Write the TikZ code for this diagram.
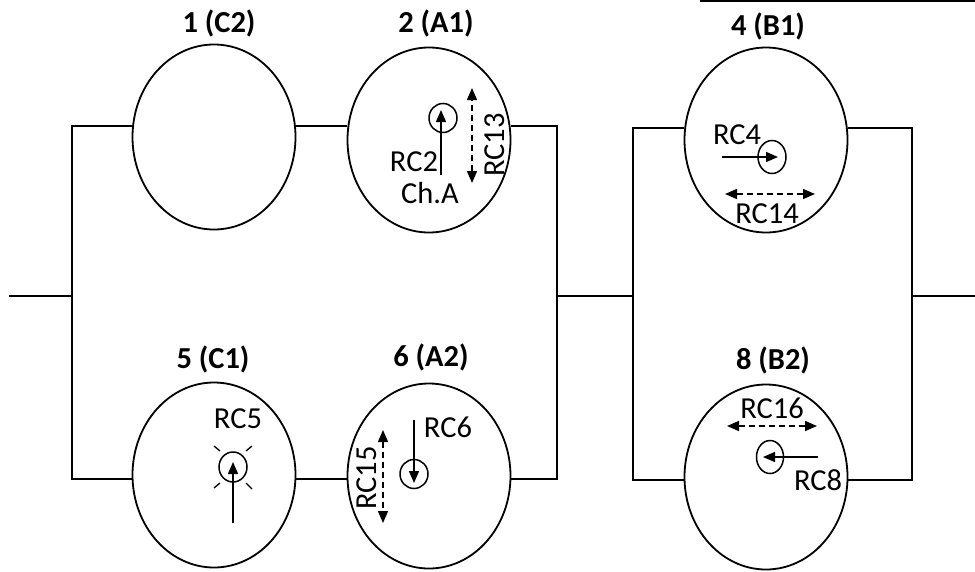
\documentclass[tikz,border=0pt]{standalone}
\usepackage{fontspec}
\setmainfont{Carlito}
\usetikzlibrary{shapes.geometric,arrows.meta}
\begin{document}
\begin{tikzpicture}[x=1pt,y=-1pt,
 wire/.style={line width=1.8pt},
 big/.style={ellipse,draw,line width=1.8pt,inner sep=0pt,minimum width=163pt,minimum height=185pt},
 small/.style={ellipse,draw,line width=1.5pt,inner sep=0pt,minimum width=28pt,minimum height=29pt},
 lab/.style={font=\fontsize{30.5}{34}\selectfont\bfseries,inner sep=0pt},
 txt/.style={font=\fontsize{30.5}{34}\selectfont,inner sep=0pt},
 arr/.style={line width=1.5pt,-{Triangle[length=12pt,width=10pt]}},
 darr/.style={line width=1.5pt,dash pattern=on 6pt off 4pt,{Triangle[length=12pt,width=10pt]}-{Triangle[length=12pt,width=10pt]}},
 ray/.style={line width=1.3pt},
]
\useasboundingbox (0,0) rectangle (975,571);

% big ellipses
\node[big] (e1) at (214,137) {};
\node[big] (e2) at (429,140) {};
\node[big] (e4) at (766,140) {};
\node[big] (e5) at (214,475) {};
\node[big] (e6) at (429,476) {};
\node[big] (e8) at (766,477) {};

% labels
\node[lab] (l1) at (219,23) {1 (C2)};
\node[lab] (l2) at (436,23) {2 (A1)};
\node[lab] (l4) at (768,26) {4 (B1)};
\node[lab] (l5) at (213,359) {5 (C1)};
\node[lab] (l6) at (431,357) {6 (A2)};
\node[lab] (l8) at (773,360) {8 (B2)};

% wiring coordinates
\coordinate (t1) at (0,126);
\coordinate (b1) at (0,479);
\coordinate (t2) at (0,128);
\coordinate (b2) at (0,480);
\coordinate (in) at (9,296);
\coordinate (jl) at (72,296);
\coordinate (jm) at (557,296);
\coordinate (jr) at (633,296);
\coordinate (jo) at (912,296);
\coordinate (out) at (975,296);
\coordinate (sl) at (700,1.2);
\coordinate (sr) at (975,1.2);

\draw[wire] (in) -- (jl);
\draw[wire] (e1.west |- t1) -| (jl) |- (e5.west |- b1);
\draw[wire] (e1.east |- t1) -- (e2.west |- t1);
\draw[wire] (e5.east |- b1) -- (e6.west |- b1);
\draw[wire] (e2.east |- t1) -| (jm) |- (e6.east |- b1);
\draw[wire] (jm) -- (jr);
\draw[wire] (e4.west |- t2) -| (jr) |- (e8.west |- b2);
\draw[wire] (e4.east |- t2) -| (jo) |- (e8.east |- b2);
\draw[wire] (jo) -- (out);
\draw[wire] (sl) -- (sr);

% ellipse 2
\node[small] (c2) at (443,118) {};
\coordinate (a2s) at (441,175);
\coordinate (a2e) at (441,110);
\draw[arr] (a2s) -- (a2e);
\node[txt] (rc2) at (414,162) {RC2};
\node[txt] (cha) at (430,193) {Ch.A};
\coordinate (d13a) at (472,183);
\coordinate (d13b) at (472,88);
\draw[darr] (d13a) -- (d13b);
\node[txt,rotate=90] (rc13) at (495,145) {RC13};

% ellipse 4
\node[small,minimum height=33pt] (c4) at (772,157) {};
\coordinate (a4s) at (722,157);
\coordinate (a4e) at (778,157);
\draw[arr] (a4s) -- (a4e);
\node[txt] (rc4) at (737,135) {RC4};
\coordinate (d14a) at (725,194);
\coordinate (d14b) at (815,194);
\draw[darr] (d14a) -- (d14b);
\node[txt] (rc14) at (767,214) {RC14};

% ellipse 5
\node[small,minimum height=30pt] (c5) at (233,467) {};
\coordinate (a5s) at (233,523);
\coordinate (a5e) at (233,462);
\draw[arr] (a5s) -- (a5e);
\node[txt] (rc5) at (238,419) {RC5};
\draw[ray] (220,451) -- (214,446);
\draw[ray] (246,451) -- (252,446);
\draw[ray] (220,483) -- (214,488);
\draw[ray] (246,483) -- (252,489);

% ellipse 6
\node[small] (c6) at (414,474) {};
\coordinate (a6s) at (414,420);
\coordinate (a6e) at (414,483);
\draw[arr] (a6s) -- (a6e);
\node[txt] (rc6) at (448,427) {RC6};
\coordinate (d15a) at (383,430);
\coordinate (d15b) at (383,523);
\draw[darr] (d15a) -- (d15b);
\node[txt,rotate=90] (rc15) at (367,478) {RC15};

% ellipse 8
\node[small,minimum width=27pt,minimum height=33pt] (c8) at (770,457) {};
\coordinate (a8s) at (818,457);
\coordinate (a8e) at (763,457);
\draw[arr] (a8s) -- (a8e);
\node[txt] (rc8) at (818,480) {RC8};
\coordinate (d16a) at (727,426);
\coordinate (d16b) at (817,426);
\draw[darr] (d16a) -- (d16b);
\node[txt] (rc16) at (772,408) {RC16};
\end{tikzpicture}
\end{document}
